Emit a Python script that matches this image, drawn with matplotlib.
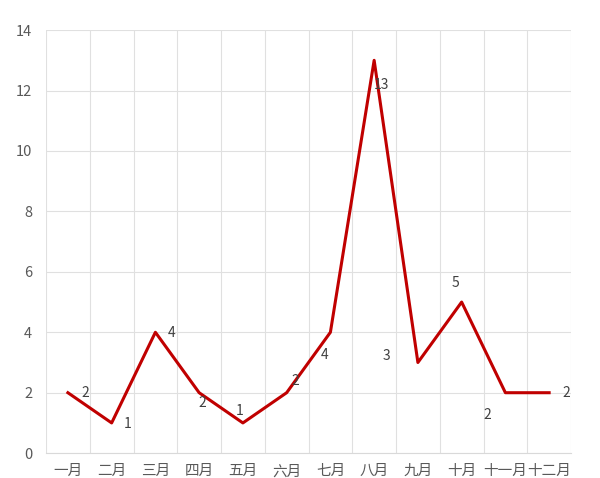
import matplotlib
matplotlib.use("Agg")
import matplotlib.pyplot as plt

plt.rcParams['font.family'] = ['Noto Sans CJK SC', 'DejaVu Sans']

months = ["一月", "二月", "三月", "四月", "五月", "六月",
          "七月", "八月", "九月", "十月", "十一月", "十二月"]
counts = [2, 1, 4, 2, 1, 2, 4, 13, 3, 5, 2, 2]
# label offsets (pixels)
label_dx = [17, 16, 16, 3, -3, 9, -6, 7, -31, -6, -18, 17]
label_dy = [0, -1, -1, -10, 12, 12, -23, -25, 6, 19, -22, 0]

fig = plt.figure(figsize=(6, 4.78), dpi=100)
ax = fig.add_axes([0.0767, 0.052, 0.875, 0.885])

x = list(range(len(months)))
ax.plot(x, counts, color="#c00000", linewidth=2.2, zorder=3)

for i, v in enumerate(counts):
    ax.annotate(str(v), (i, v), xytext=(label_dx[i], label_dy[i]),
                textcoords="offset pixels", ha="center", va="center",
                fontsize=10, color="#404040")

ax.set_xlim(-0.5, len(months) - 0.5)
ax.set_ylim(0, 14)
ax.set_yticks(range(0, 15, 2))
ax.set_xticks(x)
ax.set_xticklabels(months)
# vertical gridlines sit between categories
ax.set_xticks([i - 0.5 for i in range(len(months) + 1)], minor=True)
ax.grid(axis="y", color="#e0e0e0", linewidth=0.8)
ax.grid(axis="x", which="minor", color="#e0e0e0", linewidth=0.8)
ax.set_axisbelow(True)

for s in ["top", "right", "left"]:
    ax.spines[s].set_visible(False)
ax.spines["bottom"].set_color("#d9d9d9")
ax.tick_params(axis="both", which="both", length=0, colors="#595959", labelsize=10.5)
ax.tick_params(axis="y", pad=10)
ax.tick_params(axis="x", pad=8)

fig.savefig("out.png", dpi=100)
